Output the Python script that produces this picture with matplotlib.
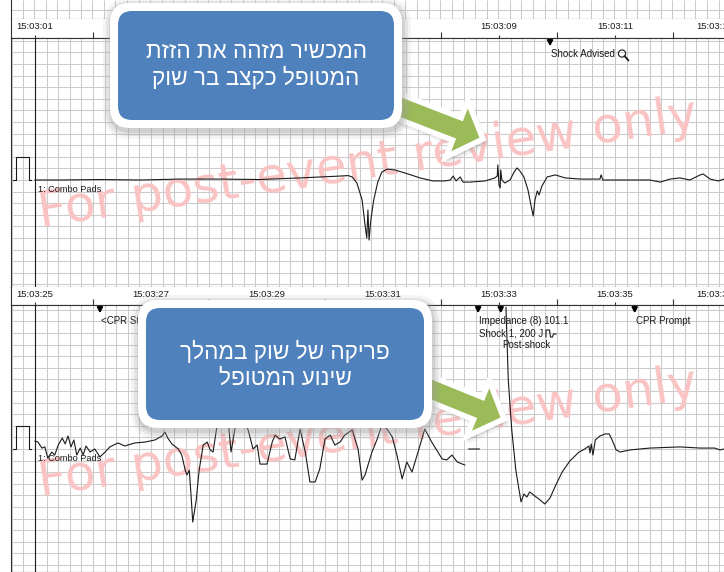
import matplotlib
matplotlib.use("Agg")
import matplotlib.pyplot as plt
import numpy as np
from matplotlib.patches import FancyBboxPatch, Polygon, Circle
from matplotlib.transforms import blended_transform_factory

W, H = 724, 572

# ── Data: combo pads lead, seconds after 15:03:00 / mV ────────────────────────
top_t = [1.00, 1.43, 2.12, 2.81, 3.50, 4.19, 4.88, 5.57, 5.91, 6.26, 6.40, 6.47,
         6.55, 6.64, 6.69, 6.72, 6.74, 6.76, 6.79, 6.84, 6.91, 6.98, 7.07, 7.21,
         7.38, 7.64, 7.86, 8.07, 8.16, 8.21, 8.26, 8.33, 8.38, 8.50, 8.76, 8.93,
         8.97, 8.98, 9.00, 9.02, 9.03, 9.05, 9.10, 9.19, 9.26, 9.31, 9.36, 9.43,
         9.50, 9.55, 9.59, 9.62, 9.66, 9.69, 9.74, 9.83, 9.97, 10.14, 10.40, 10.74,
         10.76, 10.79, 11.09, 11.60, 11.78, 11.95, 12.12, 12.29, 12.47, 12.52,
         12.64, 12.78, 12.88]
top_mv = [0.00, 0.00, 0.02, 0.00, 0.04, 0.04, 0.02, 0.09, 0.13, 0.17, 0.19, 0.13,
          -0.13, -0.86, -1.94, -2.50, -1.29, -2.59, -1.72, -0.86, -0.09, 0.34, 0.47, 0.43,
          0.30, 0.09, -0.04, -0.04, 0.00, 0.17, -0.04, 0.13, -0.09, -0.09, -0.04, 0.09,
          0.17, 0.65, -0.22, -0.34, 0.43, 0.00, -0.13, 0.00, 0.34, 0.52, 0.39, 0.13,
          -0.43, -1.08, -1.55, -0.86, -0.47, -0.65, -0.26, 0.13, 0.22, 0.09, 0.04, 0.04,
          0.22, 0.00, 0.00, 0.00, -0.09, 0.04, 0.09, 0.00, 0.22, 0.26,
          0.04, -0.04, 0.04]

bot_t = [25.00, 25.05, 25.12, 25.17, 25.22, 25.29, 25.34, 25.40, 25.47, 25.52,
         25.57, 25.62, 25.67, 25.72, 25.78, 25.83, 25.88, 25.95, 26.03, 26.12,
         26.21, 26.29, 26.43, 26.55, 26.72, 26.90, 27.07, 27.19, 27.24, 27.29,
         27.36, 27.47, 27.53, 27.59, 27.62, 27.66, 27.69, 27.72, 27.78, 27.83,
         27.90, 27.97, 28.02, 28.07, 28.14, 28.22, 28.33, 28.38, 28.45, 28.53,
         28.67, 28.76, 28.83, 28.88, 29.00, 29.09, 29.14, 29.22, 29.31, 29.40,
         29.48, 29.57, 29.66, 29.74, 29.83, 29.91, 30.00, 30.09, 30.17, 30.26,
         30.34, 30.47, 30.57, 30.64, 30.69, 30.81, 30.90, 30.98, 31.07, 31.16,
         31.24, 31.33, 31.41, 31.50, 31.62, 31.72, 31.84, 32.02, 32.10, 32.19,
         32.28, 32.41,
         32.44,
         32.48, 32.66,
         32.90,
         33.12, 33.16, 33.22, 33.29, 33.38, 33.43, 33.48, 33.53, 33.62, 33.71,
         33.79, 33.88, 33.98, 34.09, 34.22, 34.38, 34.48, 34.55, 34.57, 34.59,
         34.62, 34.66, 34.74, 34.83, 34.90, 34.95, 35.02, 35.09, 35.26, 35.60,
         36.12, 36.47, 36.72, 36.81, 36.88]
bot_mv = [0.34, 0.30, 0.04, 0.09, -0.39, -0.13, -0.26, 0.17, 0.47, 0.22,
          0.56, 0.09, 0.39, -0.26, 0.04, -0.26, 0.13, -0.13, 0.00, -0.34,
          -0.13, 0.09, 0.26, 0.13, 0.26, 0.30, 0.39, 0.56, 0.73, 0.47,
          0.22, 0.00, -0.26, -0.91, -1.12, -0.91, -1.98, -3.15, -2.20, -0.91,
          0.17, 0.30, -0.04, -0.13, 1.03, 1.90, 1.25, -0.13, 0.91, 1.47,
          0.86, 0.00, 0.17, -0.65, -0.65, 0.30, 0.60, 0.43, 0.52, -0.43,
          -0.47, 0.86, -0.13, -1.42, -1.42, -0.86, 0.43, 0.60, 0.17, 0.30,
          0.60, 0.82, 0.00, -1.34, -1.12, -0.13, 0.43, 1.03, 0.86, 0.52,
          -0.26, -1.29, -0.56, -0.99, 0.00, 0.86, 0.30, -0.43, -0.47, -0.26,
          -0.56, -0.69,
          np.nan,
          0.00, 0.00,
          np.nan,
          6.10, 2.97, 0.82, -0.91, -2.28, -1.94, -2.07, -1.85, -2.03, -2.20,
          -2.37, -2.11, -1.55, -0.99, -0.52, -0.13, 0.00, 0.13, -0.17, 0.22,
          -0.26, 0.39, 0.56, 0.65, 0.65, 0.39, -0.04, -0.13, -0.04, 0.04,
          0.09, 0.04, 0.04, -0.04, 0.00]

# 1 mV calibration pulse, seconds relative to the strip start
cal_dt = [-0.38, -0.33, -0.33, -0.10, -0.10, -0.07]
cal_mv = [0, 0, 1, 1, 0, 0]

top_start, bot_start = 1, 25
top_ticks = [1, 3, 5, 7, 9, 11, 13]
top_tick_labels = ["15:03:01", "15:03:03", "15:03:05", "15:03:07",
                   "15:03:09", "15:03:11", "15:03:13"]
bot_ticks = [25, 27, 29, 31, 33, 35, 37]
bot_tick_labels = ["15:03:25", "15:03:27", "15:03:29", "15:03:31",
                   "15:03:33", "15:03:35", "15:03:37"]

top_event_t = [9.88]
top_event_text = ["Shock Advised"]
top_event_row = [0]
bot_arrow_t = [26.12, 32.64, 33.03, 35.34]
bot_event_t = [26.12, 32.64, 32.64, 33.03, 35.34]
bot_event_text = ["<CPR Start", "Impedance (8) 101.1", "Shock 1, 200 J",
                  "Post-shock", "CPR Prompt"]
bot_event_row = [0, 0, 1, 2, 0]

note_top = ["המכשיר מזהה את הזזת", "המטופל כקצב בר שוק"]
note_bot = ["פריקה של שוק במהלך", "שינוע המטופל"]

# ── Style ─────────────────────────────────────────────────────────────────────
GRID = "#cbcbcb"
FRAME = "#333333"
INK = "#1a1a1a"
BLUE = "#4f81bd"
GREEN = "#9bbb59"
PINK = "#fac3c3"
SANS = ["Liberation Sans", "DejaVu Sans"]
PX_S, PX_MV = 58.0, 23.2
LEFT, MARK_X = 11, 35
VIEW_RIGHT = 733          # the viewer window ends just past the crop

fig = plt.figure(figsize=(W / 100, H / 100), dpi=100)
fig.patch.set_facecolor("white")


def px_axes(x0, y0, x1, y1):
    return fig.add_axes([x0 / W, 1 - y1 / H, (x1 - x0) / W, (y1 - y0) / H])


def grid_lines(ax):
    x0, x1 = ax.get_xlim()
    y0, y1 = ax.get_ylim()
    ax.vlines(np.arange(np.ceil(x0 / 0.2) * 0.2, x1, 0.2), y0, y1,
              color=GRID, lw=0.75, zorder=0)
    ax.hlines(np.arange(np.ceil(y0 / 0.5) * 0.5, y1, 0.5), x0, x1,
              color=GRID, lw=0.75, zorder=0)


def clean(ax, keep=("left",)):
    ax.set_xticks([])
    ax.set_yticks([])
    for name, sp in ax.spines.items():
        sp.set_visible(name in keep)
        sp.set_color(FRAME)
        sp.set_linewidth(0.8)


def strip(y_head, y_line, y_bot, t0, base_px, t, mv, ticks, labels,
          ev_t, ev_text, ev_row, arrow_t):
    xlim = (t0 - (MARK_X - LEFT) / PX_S, t0 + (W - MARK_X) / PX_S)
    t_view = t0 + (VIEW_RIGHT - MARK_X) / PX_S

    hd = px_axes(LEFT, y_head, W, y_line)
    hd.set_xlim(xlim)
    hd.set_ylim(0, 1)
    clean(hd, ("left", "bottom"))
    secs = np.arange(np.ceil(xlim[0]), xlim[1])
    hd.vlines([s for s in secs if s not in ticks], 0, 0.32, color=FRAME, lw=0.8)
    hd.vlines(ticks, 0, 0.16, color=FRAME, lw=0.8)
    for tk, lab in zip(ticks, labels):
        # labels that would run past the viewer edge are pinned to it
        if tk + 0.3 > t_view:
            hd.text(t_view, 0.6, lab, ha="right", va="center", fontsize=6.8,
                    color=INK, family=SANS)
        else:
            hd.text(tk, 0.6, lab, ha="center", va="center", fontsize=6.8,
                    color=INK, family=SANS)

    ax = px_axes(LEFT, y_line, W, y_bot)
    ax.set_xlim(xlim)
    ax.set_ylim(-(y_bot - base_px) / PX_MV, (base_px - y_line) / PX_MV)
    clean(ax, ("left", "bottom", "top"))
    grid_lines(ax)
    ax.axvline(t0, color=INK, lw=0.8, zorder=3)

    ax.text(0.503, (y_bot - base_px + 2) / (y_bot - y_line),
            "For post-event review only", transform=ax.transAxes,
            ha="center", va="baseline", rotation=8.5, rotation_mode="anchor",
            fontsize=36, color=PINK, family="DejaVu Sans", zorder=1)

    ax.plot([t0 + d for d in cal_dt], cal_mv, color=INK, lw=0.8, zorder=4)
    ax.plot(t, mv, color=INK, lw=0.8, zorder=4)
    ax.text(t0 + 0.05, -0.2, "1: Combo Pads", ha="left", va="top",
            fontsize=6.6, color=INK, family=SANS, zorder=5)

    tr = blended_transform_factory(ax.transData, ax.transAxes)
    span = y_bot - y_line
    for ta in arrow_t:
        ax.annotate("", xy=(ta, 1 - 11 / span), xytext=(ta, 1 - 1 / span),
                    xycoords=tr, textcoords=tr,
                    arrowprops=dict(arrowstyle="-|>,head_width=0.16,head_length=0.3",
                                    color="black", lw=1.4), zorder=5)
    for te, txt, row in zip(ev_t, ev_text, ev_row):
        ax.text(te + 0.02, 1 - (16 + 12 * row) / span, txt, transform=tr,
                ha="left", va="center", fontsize=7, color=INK, family=SANS,
                zorder=5)
    return ax


# remnant of the previous strip at the very top
rem = px_axes(LEFT, 0, W, 19)
rem.set_xlim(0, 1)
rem.set_ylim(0, 1)
clean(rem, ("left", "bottom"))
rem.vlines(np.arange(0.0163, 1, 11.6 / (W - LEFT)), 0, 1, color=GRID, lw=0.75)
rem.hlines([0.45], 0, 1, color=GRID, lw=0.75)

strip(19, 38, 287, top_start, 180, top_t, top_mv, top_ticks, top_tick_labels,
      top_event_t, top_event_text, top_event_row, top_event_t)
strip(287, 305, H, bot_start, 449, bot_t, bot_mv, bot_ticks, bot_tick_labels,
      bot_event_t, bot_event_text, bot_event_row, bot_arrow_t)

# ── Overlay in pixel coordinates: icons, arrows, callouts ────────────────────
ov = fig.add_axes([0, 0, 1, 1])
ov.set_xlim(0, W)
ov.set_ylim(H, 0)
ov.axis("off")

# magnifier next to "Shock Advised"
ov.add_patch(Circle((622, 53.5), 3.6, fc="none", ec=INK, lw=0.8))
ov.plot([624.5, 628.5], [56, 60.5], color=INK, lw=1.3, solid_capstyle="round")
# shock waveform glyph
ov.plot([546, 546, 549.5, 550.5, 552.5, 553.5, 556],
        [337, 330, 330, 337, 337, 334, 334], color=INK, lw=0.8)


def block_arrow(tail, tip, shaft_w, head_w, head_l):
    tail = np.array(tail, float)
    tip = np.array(tip, float)
    u = (tip - tail) / np.hypot(*(tip - tail))
    n = np.array([-u[1], u[0]])
    neck = tip - u * head_l
    pts = np.array([tail + n * shaft_w / 2, neck + n * shaft_w / 2,
                    neck + n * head_w / 2, tip, neck - n * head_w / 2,
                    neck - n * shaft_w / 2, tail - n * shaft_w / 2])
    for k, a in [(4, 0.10), (2.5, 0.14)]:
        ov.add_patch(Polygon(pts + [k * 0.6, k], closed=True, fc="#7f7f7f",
                             ec="#7f7f7f", lw=k, alpha=a, joinstyle="round"))
    ov.add_patch(Polygon(pts, closed=True, fc=GREEN, ec="white", lw=4,
                         joinstyle="miter"))


def callout(x0, y0, x1, y1, lines, line_y):
    w, h = x1 - x0, y1 - y0
    for k, a in [(8, 0.10), (5, 0.18), (2, 0.25)]:
        ov.add_patch(FancyBboxPatch((x0 - k + 1, y0 - k + 3), w + 2 * k, h + 2 * k,
                                    boxstyle=f"round,pad=0,rounding_size={20 + k}",
                                    fc="#9a9a9a", ec="none", alpha=a))
    ov.add_patch(FancyBboxPatch((x0, y0), w, h,
                                boxstyle="round,pad=0,rounding_size=20",
                                fc="white", ec="none"))
    ov.add_patch(FancyBboxPatch((x0 + 8, y0 + 8), w - 16, h - 16,
                                boxstyle="round,pad=0,rounding_size=14",
                                fc=BLUE, ec="none"))
    for txt, ly in zip(lines, line_y):
        ov.text((x0 + x1) / 2, ly, txt[::-1], ha="center", va="center",
                fontsize=16.3, color="white", family=SANS)


block_arrow((382, 100), (483, 139), 24, 60, 28)
block_arrow((423, 386), (504, 419), 24, 60, 28)

callout(110, 3, 402, 128, note_top, [52, 78])
callout(138, 300, 432, 428, note_bot, [352, 378])

fig.savefig("out.png", dpi=100, facecolor="white")
